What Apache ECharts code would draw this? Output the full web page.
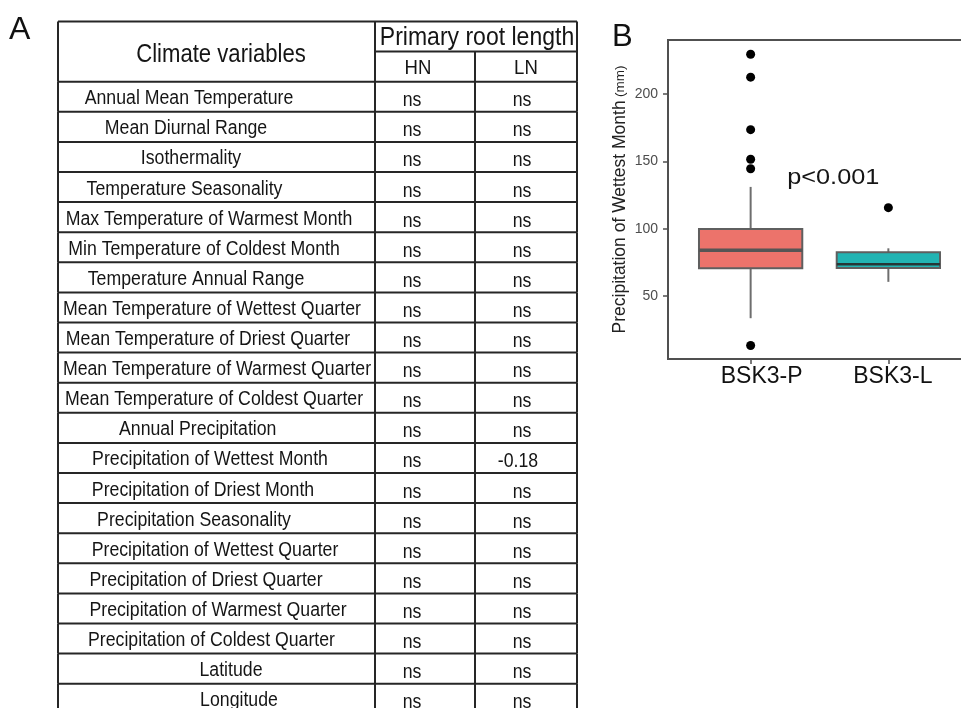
<!DOCTYPE html>
<html>
<head>
<meta charset="utf-8">
<script src="https://cdn.jsdelivr.net/npm/echarts@6/dist/echarts.min.js"></script>
<style>
  html, body { margin: 0; padding: 0; background: #ffffff; }
  #chart { width: 961px; height: 708px; }
</style>
</head>
<body>
<div id="chart"></div>
<script>
// ---------- Panel A: climate variables vs. primary root length ----------
const climateVariables = [
  'Annual Mean Temperature',
  'Mean Diurnal Range',
  'Isothermality',
  'Temperature Seasonality',
  'Max Temperature of Warmest Month',
  'Min Temperature of Coldest Month',
  'Temperature Annual Range',
  'Mean Temperature of Wettest Quarter',
  'Mean Temperature of Driest Quarter',
  'Mean Temperature of Warmest Quarter',
  'Mean Temperature of Coldest Quarter',
  'Annual Precipitation',
  'Precipitation of Wettest Month',
  'Precipitation of Driest Month',
  'Precipitation Seasonality',
  'Precipitation of Wettest Quarter',
  'Precipitation of Driest Quarter',
  'Precipitation of Warmest Quarter',
  'Precipitation of Coldest Quarter',
  'Latitude',
  'Longitude'
];
const hnResults = [
  'ns', 'ns', 'ns', 'ns', 'ns', 'ns', 'ns', 'ns', 'ns', 'ns', 'ns',
  'ns', 'ns', 'ns', 'ns', 'ns', 'ns', 'ns', 'ns', 'ns', 'ns'
];
const lnResults = [
  'ns', 'ns', 'ns', 'ns', 'ns', 'ns', 'ns', 'ns', 'ns', 'ns', 'ns',
  'ns', '-0.18', 'ns', 'ns', 'ns', 'ns', 'ns', 'ns', 'ns', 'ns'
];
const variableHeader = 'Climate variables';
const traitHeader = 'Primary root length';
const conditionHeaders = ['HN', 'LN'];

// ---------- Panel B: precipitation of wettest month by group ----------
const groups = ['BSK3-P', 'BSK3-L'];
const lowerWhisker = [33.5, 60.5];
const lowerQuartile = [70.6, 70.8];
const medianValue = [84, 73.5];
const upperQuartile = [99.7, 82.4];
const upperWhisker = [131, 85.4];
const outliersP = [229.5, 212.5, 173.5, 151.5, 144.5, 13.2];
const outliersL = [115.6];
const yTicks = [50, 100, 150, 200];
const pValueText = 'p<0.001';

// ---------- layout (table units: x in px-sized units, y in rows) ----------
const colEdges = [0, 317, 417, 519];
const labelCenters = [131, 128, 133, 126.5, 151, 146, 138, 154, 150, 159, 156,
                      139.7, 152, 145, 136, 157, 148, 160, 153.5, 173, 181];
const hnCenter = 354, lnCenter = 464;
const FONT = '"Liberation Sans", Arial, Helvetica, sans-serif';
const NARROW = 0.885;
const RULE = { stroke: '#262626', lineWidth: 2 };

function textEl(text, x, y, size, scaleX, extra) {
  return Object.assign({
    type: 'text', x: x, y: y, scaleX: scaleX, scaleY: 1,
    style: {
      text: text, fill: '#151515', fontSize: size, fontFamily: FONT,
      align: 'center', verticalAlign: 'middle'
    }
  }, extra || {});
}
function hLine(x1, x2, y) {
  return { type: 'line', shape: { x1: x1, y1: y, x2: x2, y2: y }, style: RULE };
}
function vLine(x, y1, y2) {
  return { type: 'line', shape: { x1: x, y1: y1, x2: x, y2: y2 }, style: RULE };
}

function renderHeader(params, api) {
  const xs = colEdges.map(c => api.coord([c, 0])[0]);
  const y0 = api.coord([0, 0])[1], y1 = api.coord([0, 1])[1], y2 = api.coord([0, 2])[1];
  const children = [
    hLine(xs[0], xs[3], y0), hLine(xs[1], xs[3], y1), hLine(xs[0], xs[3], y2),
    vLine(xs[0], y0, y2), vLine(xs[1], y0, y2), vLine(xs[2], y1, y2), vLine(xs[3], y0, y2),
    textEl(variableHeader, api.coord([163, 0])[0], (y0 + y2) / 2 + 4, 25, NARROW),
    textEl(traitHeader, (xs[1] + xs[3]) / 2 + 1, (y0 + y1) / 2 + 1, 26, NARROW),
    textEl(conditionHeaders[0], api.coord([360, 0])[0], (y1 + y2) / 2 + 2, 21, NARROW),
    textEl(conditionHeaders[1], api.coord([468, 0])[0], (y1 + y2) / 2 + 2, 21, NARROW)
  ];
  return { type: 'group', children: children };
}

function renderRow(params, api) {
  const i = api.value(0);
  const u = api.value(1);
  const xs = colEdges.map(c => api.coord([c, 0])[0]);
  const yTop = api.coord([0, u])[1];
  const yBot = api.coord([0, u + 1])[1];
  const yMid = (yTop + yBot) / 2;
  const children = [hLine(xs[0], xs[3], yBot)];
  xs.forEach(x => children.push(vLine(x, yTop, yBot)));
  children.push(textEl(climateVariables[i], api.coord([labelCenters[i], 0])[0], yMid + 2, 20, NARROW));
  children.push(textEl(hnResults[i], api.coord([hnCenter, 0])[0], yMid + 4, 20, NARROW));
  const lnX = lnResults[i] === 'ns' ? lnCenter : lnCenter - 4;
  children.push(textEl(lnResults[i], api.coord([lnX, 0])[0], yMid + 4, 20, NARROW));
  return { type: 'group', children: children };
}

// box-and-whisker glyph for one group
function renderBox(params, api) {
  const x = api.value(0);
  const cx = api.coord([x, 0])[0];
  const half = api.size([0.75, 0])[0] / 2;
  const yLo = api.coord([x, api.value(1)])[1];
  const yQ1 = api.coord([x, api.value(2)])[1];
  const yMed = api.coord([x, api.value(3)])[1];
  const yQ3 = api.coord([x, api.value(4)])[1];
  const yHi = api.coord([x, api.value(5)])[1];
  const first = params.dataIndex === 0;
  return {
    type: 'group',
    children: [
      { type: 'line', shape: { x1: cx, y1: yHi, x2: cx, y2: yQ3 }, style: { stroke: '#6e6e6e', lineWidth: 2 } },
      { type: 'line', shape: { x1: cx, y1: yQ1, x2: cx, y2: yLo }, style: { stroke: '#6e6e6e', lineWidth: 2 } },
      { type: 'rect', shape: { x: cx - half, y: yQ3, width: 2 * half, height: yQ1 - yQ3 },
        style: { fill: first ? '#EC736B' : '#22B4B3', stroke: '#5f5f5f', lineWidth: 2 } },
      { type: 'line', shape: { x1: cx - half, y1: yMed, x2: cx + half, y2: yMed },
        style: { stroke: first ? '#555555' : '#263636', lineWidth: first ? 3.5 : 2.5 } }
    ]
  };
}

function renderNote(params, api) {
  const p = api.coord([api.value(0), api.value(1)]);
  return textEl(pValueText, p[0], p[1], 22, 1.15, {});
}

const chart = echarts.init(document.getElementById('chart'), null, { renderer: 'canvas' });

const outlierData = outliersP.map(v => [1, v]).concat(outliersL.map(v => [2, v]));

chart.setOption({
  animation: false,
  backgroundColor: '#ffffff',
  textStyle: { fontFamily: FONT },
  grid: [
    { left: 58, top: 21.5, width: 519, height: 23 * 30.1, show: false,
      containLabel: false, outerBoundsMode: 'none' },
    { left: 668, top: 40, width: 303, height: 319, show: true,
      containLabel: false, outerBoundsMode: 'none',
      borderColor: '#505050', borderWidth: 2, backgroundColor: 'transparent' }
  ],
  xAxis: [
    { gridIndex: 0, type: 'value', min: 0, max: 519, show: false },
    { gridIndex: 1, type: 'value', min: 0.4, max: 2.6,
      axisLine: { show: true, onZero: false, lineStyle: { color: '#505050', width: 2 } },
      axisTick: { show: true, customValues: [1, 2], length: 5, lineStyle: { color: '#505050', width: 1.5 } },
      axisLabel: { show: true, customValues: [1, 2], margin: 6, fontSize: 23, color: '#111111',
                   formatter: v => (Math.round(v) === 1 ? '{p|' : '{l|') + groups[Math.round(v) - 1] + '}',
                   rich: { p: { fontSize: 23, color: '#111111', padding: [0, 0, 0, 22] },
                           l: { fontSize: 23, color: '#111111', padding: [0, 0, 0, 9] } } },
      splitLine: { show: false } }
  ],
  yAxis: [
    { gridIndex: 0, type: 'value', min: 0, max: 23, inverse: true, show: false },
    { gridIndex: 1, type: 'value', min: 3.2, max: 240.1,
      axisLine: { show: true, onZero: false, lineStyle: { color: '#505050', width: 2 } },
      axisTick: { show: true, customValues: yTicks, length: 5, lineStyle: { color: '#505050', width: 1.5 } },
      axisLabel: { show: true, customValues: yTicks, margin: 10, fontSize: 14, color: '#4d4d4d' },
      splitLine: { show: false },
      name: '{a|Precipitation of Wettest Month} {b|(mm)}',
      nameLocation: 'middle', nameRotate: 90, nameGap: 39,
      nameTextStyle: { rich: { a: { fontSize: 17.5, color: '#222222' }, b: { fontSize: 13.5, color: '#222222' } } } }
  ],
  graphic: [
    { type: 'text', left: 9, top: 14, style: { text: 'A', fontSize: 32, fontFamily: FONT, fill: '#111111' } },
    { type: 'text', left: 612, top: 22, style: { text: 'B', fontSize: 31, fontFamily: FONT, fill: '#111111' } }
  ],
  series: [
    { type: 'custom', name: 'header', xAxisIndex: 0, yAxisIndex: 0,
      data: [[0, 0]], renderItem: renderHeader, silent: true },
    { type: 'custom', name: 'rows', xAxisIndex: 0, yAxisIndex: 0,
      data: climateVariables.map((_, i) => [i, i + 2]), renderItem: renderRow, silent: true },
    { type: 'custom', name: 'boxes', xAxisIndex: 1, yAxisIndex: 1,
      encode: { x: 0, y: [1, 2, 3, 4, 5] },
      data: groups.map((g, i) => [i + 1, lowerWhisker[i], lowerQuartile[i], medianValue[i], upperQuartile[i], upperWhisker[i]]),
      renderItem: renderBox, silent: true },
    { type: 'scatter', name: 'outliers', xAxisIndex: 1, yAxisIndex: 1,
      data: outlierData, symbol: 'circle', symbolSize: 9,
      itemStyle: { color: '#000000', opacity: 1 }, silent: true },
    { type: 'custom', name: 'note', xAxisIndex: 1, yAxisIndex: 1,
      data: [[1.6, 137.5]], renderItem: renderNote, silent: true }
  ]
});
</script>
</body>
</html>
